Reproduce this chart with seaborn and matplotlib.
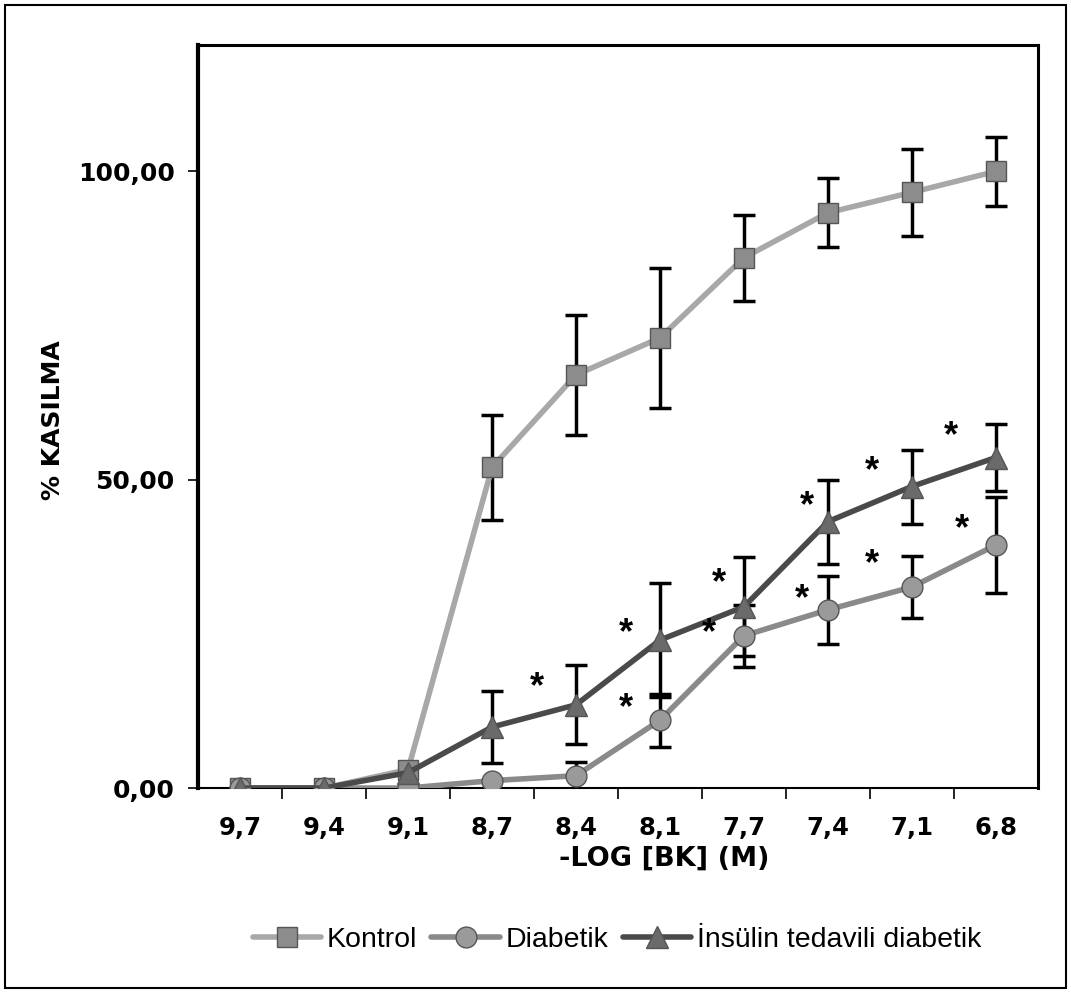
import matplotlib
matplotlib.use("Agg")
import matplotlib.pyplot as plt
import seaborn as sns
import pandas as pd
import numpy as np
from matplotlib.patches import Rectangle

# ---- data ----
categories = ["9,7", "9,4", "9,1", "8,7", "8,4", "8,1", "7,7", "7,4", "7,1", "6,8"]
series_names = ["Kontrol", "Diabetik", "İnsülin tedavili diabetik"]
kontrol = [0, 0, 3, 52, 67, 73, 86, 93.3, 96.6, 100]
kontrol_err = [0, 0, 0, 8.5, 9.7, 11.4, 7, 5.6, 7.1, 5.6]
diabetik = [0, 0, 0, 1.2, 2, 11, 24.7, 28.9, 32.6, 39.4]
diabetik_err = [0, 0, 0, 0, 2.3, 4.3, 5, 5.5, 5.1, 7.8]
insulin = [0, 0, 2.5, 9.9, 13.5, 24, 29.4, 43.2, 48.9, 53.6]
insulin_err = [0, 0, 0, 5.8, 6.4, 9.3, 8, 6.8, 6, 5.5]
yticks = [0, 50, 100]
ytick_labels = ["0,00", "50,00", "100,00"]
star_x = [3.54, 4.6, 4.6, 5.7, 5.58, 6.75, 6.69, 7.52, 7.52, 8.46, 8.6]
star_y = [16.3, 25.1, 12.9, 33.2, 25.0, 45.6, 30.5, 51.3, 36.2, 57.0, 41.9]

sns.set_theme(style="white")
plt.rcParams['font.family'] = ['Liberation Sans', 'DejaVu Sans']
plt.rcParams['text.color'] = 'black'
plt.rcParams['axes.labelcolor'] = 'black'
plt.rcParams['xtick.color'] = 'black'
plt.rcParams['ytick.color'] = 'black'
wide = ['DejaVu Sans']

fig = plt.figure(figsize=(10.71, 9.93), dpi=100)
ax = fig.add_axes([0.185, 0.2064, 0.784, 0.7483])

x = np.arange(len(categories))
df = pd.DataFrame({
    "x": np.concatenate([x, x, x]),
    "y": kontrol + diabetik + insulin,
    "series": np.repeat(series_names, len(categories)),
})
errs = [kontrol_err, diabetik_err, insulin_err]
vals = [kontrol, diabetik, insulin]

line_colors = ["#a8a8a8", "#8a8a8a", "#4a4a4a"]
marker_colors = ["#8c8c8c", "#9a9a9a", "#6a6a6a"]
markers = ["s", "o", "^"]
msizes = [15, 15, 16]

for i, name in enumerate(series_names):
    m = np.array(errs[i]) > 0
    ax.errorbar(x[m], np.array(vals[i])[m], yerr=np.array(errs[i])[m], fmt="none",
                ecolor="black", elinewidth=2.5, capsize=8, capthick=2.5, zorder=2)

for i, name in enumerate(series_names):
    sub = df[df["series"] == name]
    sns.lineplot(data=sub, x="x", y="y", ax=ax, color=line_colors[i], linewidth=4,
                 marker=markers[i], markersize=msizes[i], markerfacecolor=marker_colors[i],
                 markeredgecolor="#555555", markeredgewidth=1, label=name, zorder=3 + i,
                 errorbar=None)

for sx, sy in zip(star_x, star_y):
    ax.text(sx, sy, "*", ha="center", va="center", fontsize=26, fontweight="bold",
            color="black", zorder=10)

ax.set_xlim(-0.5, len(categories) - 0.5)
ax.set_ylim(0, 120.5)
ax.set_xticks(x)
ax.set_xticklabels(categories, fontsize=17.5, fontweight="bold", family=wide)
ax.set_xticks(np.arange(0.5, len(categories) - 0.5, 1), minor=True)
ax.tick_params(axis="x", which="major", length=0, pad=20)
ax.tick_params(axis="x", which="minor", bottom=True, length=8, width=1.2, color="black", direction="out")
ax.set_yticks(yticks)
ax.set_yticklabels(ytick_labels, fontsize=18, fontweight="bold", family=wide)
ax.tick_params(axis="y", left=True, length=7, width=1.2, color="black", direction="out", pad=10)

ax.set_xlabel("-LOG [BK] (M)", fontsize=19.5, fontweight="bold", family=wide)
ax.xaxis.set_label_coords(0.555, -0.078)
ax.set_ylabel("% KASILMA", fontsize=18, fontweight="bold", family=wide)
ax.yaxis.set_label_coords(-0.158, 0.495)

for side, sp in ax.spines.items():
    sp.set_visible(True)
    sp.set_color("black")
    sp.set_linewidth(2.2)
ax.spines["left"].set_linewidth(3)
ax.spines["bottom"].set_linewidth(1.5)

ax.get_legend().remove()
handles, labels = ax.get_legend_handles_labels()
leg = fig.legend(handles, labels, loc="center", bbox_to_anchor=(0.576, 0.053), ncol=3,
                 frameon=False, fontsize=20.5, handlelength=2.4, handletextpad=0.2, columnspacing=0.5)
for t in leg.get_texts():
    t.set_color("black")

fig.patches.append(Rectangle((0.005, 0.005), 0.99, 0.99, transform=fig.transFigure,
                             fill=False, edgecolor="black", linewidth=1.5))

fig.savefig("out.png", dpi=100)
